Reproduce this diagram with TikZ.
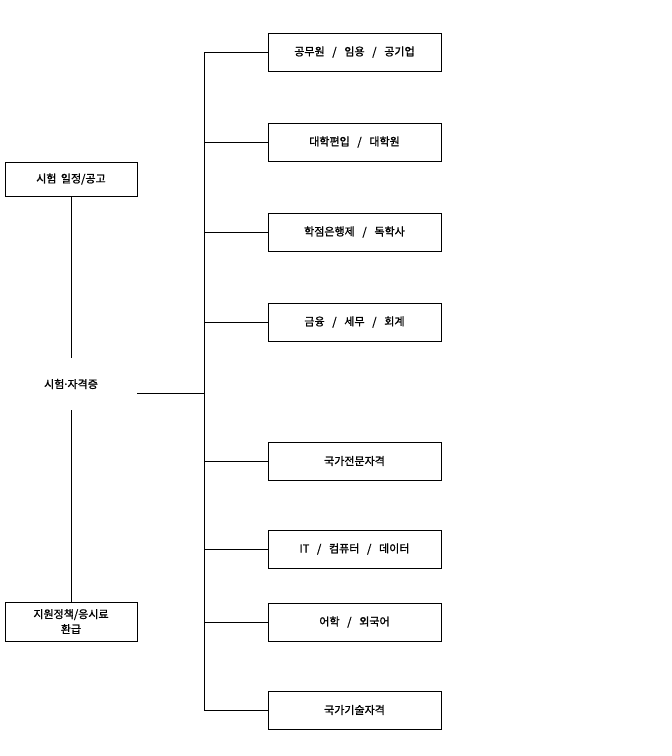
\documentclass[tikz,border=0pt]{standalone}
\usepackage{fontspec}
\setmainfont{Noto Sans CJK KR}[FakeBold=1.2]
\newcommand{\slsep}{\hspace{0.7em}/\hspace{0.7em}}
\begin{document}
\begin{tikzpicture}[x=1pt,y=-1pt,line width=0.8pt,
  box/.style={draw,minimum width=173pt,minimum height=38pt,inner sep=0pt,font=\fontsize{11}{12}\selectfont},
  lbox/.style={draw,minimum width=132pt,minimum height=34pt,inner sep=0pt,align=center,font=\fontsize{11}{15}\selectfont}]
\useasboundingbox (0,0) rectangle (672,756);
\node[lbox] (sched) at (71,179) {시험\hspace{0.4em}일정/공고};
\node[lbox,minimum height=39pt] (supp) at (71,621.5) {지원정책/응시료\\환급};
\node[minimum width=132pt,minimum height=52pt,inner sep=0pt,font=\fontsize{11}{12}\selectfont] (mid) at (71,384) {시험\hspace{-1.5pt}·\hspace{-1.5pt}자격증};
\draw (sched) -- (mid);
\draw (mid) -- (supp);
\coordinate (hj) at (137,393);
\coordinate (tj) at (204,393);
\coordinate (ttop) at (204,52);
\coordinate (tbot) at (204,710);
\draw (hj) -- (tj);
\draw (ttop) -- (tbot);
\foreach \n/\y/\t in {a/52/{공무원\slsep 임용\slsep 공기업}, b/142/{대학편입\slsep 대학원}, c/232/{학점은행제\slsep 독학사}, d/322/{금융\slsep 세무\slsep 회계}, e/461/{국가전문자격}, f/549/{IT\slsep 컴퓨터\slsep 데이터}, g/622/{어학\slsep 외국어}, h/710/{국가기술자격}}{
  \node[box] (\n) at (354.5,\y) {\t};
  \coordinate (c\n) at (204,\y);
  \draw (c\n) -- (\n);
}
\end{tikzpicture}
\end{document}
